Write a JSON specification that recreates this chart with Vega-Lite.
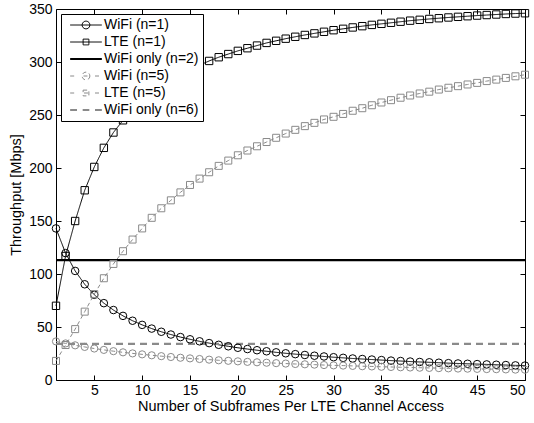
{
  "$schema": "https://vega.github.io/schema/vega-lite/v6.json",
  "width": 469,
  "height": 371,
  "autosize": "none",
  "padding": {"left": 56, "top": 9, "right": 9, "bottom": 43},
  "background": "white",
  "data": {"values": [
    {"x":1,"w1":143,"l1":70,"w5":36.4,"l5":18,"o2":113,"o6":34},
    {"x":2,"w1":119.7,"l1":117,"w5":34.5,"l5":33,"o2":113,"o6":34},
    {"x":3,"w1":102.9,"l1":150,"w5":32.7,"l5":48,"o2":113,"o6":34},
    {"x":4,"w1":90.3,"l1":179,"w5":31.2,"l5":64.5,"o2":113,"o6":34},
    {"x":5,"w1":80.4,"l1":201,"w5":29.7,"l5":81,"o2":113,"o6":34},
    {"x":6,"w1":72.5,"l1":219,"w5":28.4,"l5":96,"o2":113,"o6":34},
    {"x":7,"w1":66.0,"l1":233.5,"w5":27.2,"l5":109.5,"o2":113,"o6":34},
    {"x":8,"w1":60.5,"l1":245,"w5":26.1,"l5":121.5,"o2":113,"o6":34},
    {"x":9,"w1":55.9,"l1":255,"w5":25.1,"l5":132.5,"o2":113,"o6":34},
    {"x":10,"w1":52.0,"l1":264,"w5":24.2,"l5":143,"o2":113,"o6":34},
    {"x":11,"w1":48.5,"l1":271,"w5":23.3,"l5":153,"o2":113,"o6":34},
    {"x":12,"w1":45.5,"l1":277.5,"w5":22.5,"l5":162,"o2":113,"o6":34},
    {"x":13,"w1":42.9,"l1":283,"w5":21.7,"l5":169.5,"o2":113,"o6":34},
    {"x":14,"w1":40.5,"l1":288,"w5":21.0,"l5":177,"o2":113,"o6":34},
    {"x":15,"w1":38.4,"l1":293,"w5":20.4,"l5":184,"o2":113,"o6":34},
    {"x":16,"w1":36.5,"l1":297,"w5":19.8,"l5":190,"o2":113,"o6":34},
    {"x":17,"w1":34.8,"l1":301,"w5":19.2,"l5":196,"o2":113,"o6":34},
    {"x":18,"w1":33.2,"l1":304.5,"w5":18.6,"l5":202,"o2":113,"o6":34},
    {"x":19,"w1":31.8,"l1":307.5,"w5":18.1,"l5":207,"o2":113,"o6":34},
    {"x":20,"w1":30.4,"l1":310.5,"w5":17.6,"l5":212,"o2":113,"o6":34},
    {"x":21,"w1":29.2,"l1":313,"w5":17.1,"l5":216.5,"o2":113,"o6":34},
    {"x":22,"w1":28.1,"l1":315.5,"w5":16.7,"l5":220.5,"o2":113,"o6":34},
    {"x":23,"w1":27.1,"l1":318,"w5":16.3,"l5":224.5,"o2":113,"o6":34},
    {"x":24,"w1":26.1,"l1":320,"w5":15.9,"l5":228.5,"o2":113,"o6":34},
    {"x":25,"w1":25.2,"l1":322,"w5":15.5,"l5":232.5,"o2":113,"o6":34},
    {"x":26,"w1":24.4,"l1":323.8,"w5":15.1,"l5":236,"o2":113,"o6":34},
    {"x":27,"w1":23.6,"l1":325.5,"w5":14.8,"l5":239.5,"o2":113,"o6":34},
    {"x":28,"w1":22.9,"l1":327,"w5":14.5,"l5":242.6,"o2":113,"o6":34},
    {"x":29,"w1":22.2,"l1":328.5,"w5":14.1,"l5":245.8,"o2":113,"o6":34},
    {"x":30,"w1":21.5,"l1":330,"w5":13.8,"l5":248.3,"o2":113,"o6":34},
    {"x":31,"w1":20.9,"l1":331.3,"w5":13.6,"l5":251,"o2":113,"o6":34},
    {"x":32,"w1":20.3,"l1":332.6,"w5":13.3,"l5":254,"o2":113,"o6":34},
    {"x":33,"w1":19.8,"l1":333.8,"w5":13.0,"l5":256.4,"o2":113,"o6":34},
    {"x":34,"w1":19.3,"l1":335,"w5":12.8,"l5":259.2,"o2":113,"o6":34},
    {"x":35,"w1":18.8,"l1":336,"w5":12.5,"l5":261.8,"o2":113,"o6":34},
    {"x":36,"w1":18.3,"l1":337,"w5":12.3,"l5":264,"o2":113,"o6":34},
    {"x":37,"w1":17.9,"l1":338,"w5":12.0,"l5":266.3,"o2":113,"o6":34},
    {"x":38,"w1":17.4,"l1":339,"w5":11.8,"l5":268.4,"o2":113,"o6":34},
    {"x":39,"w1":17.0,"l1":339.8,"w5":11.6,"l5":270.3,"o2":113,"o6":34},
    {"x":40,"w1":16.7,"l1":340.6,"w5":11.4,"l5":272,"o2":113,"o6":34},
    {"x":41,"w1":16.3,"l1":341.3,"w5":11.2,"l5":274,"o2":113,"o6":34},
    {"x":42,"w1":15.9,"l1":342,"w5":11.0,"l5":275.7,"o2":113,"o6":34},
    {"x":43,"w1":15.6,"l1":342.6,"w5":10.8,"l5":277.2,"o2":113,"o6":34},
    {"x":44,"w1":15.3,"l1":343.2,"w5":10.7,"l5":278.8,"o2":113,"o6":34},
    {"x":45,"w1":15.0,"l1":343.8,"w5":10.5,"l5":280.3,"o2":113,"o6":34},
    {"x":46,"w1":14.7,"l1":344.3,"w5":10.3,"l5":282,"o2":113,"o6":34},
    {"x":47,"w1":14.4,"l1":344.8,"w5":10.2,"l5":283.4,"o2":113,"o6":34},
    {"x":48,"w1":14.1,"l1":345.3,"w5":10.0,"l5":285,"o2":113,"o6":34},
    {"x":49,"w1":13.8,"l1":345.7,"w5":9.8,"l5":286.5,"o2":113,"o6":34},
    {"x":50,"w1":13.6,"l1":346,"w5":9.7,"l5":288,"o2":113,"o6":34}
  ]},
  "transform": [{"fold": ["w1","l1","o2","w5","l5","o6"], "as": ["series","value"]}],
  "layer": [
    {
      "transform": [{"filter": "datum.series=='w1'||datum.series=='l1'||datum.series=='w5'||datum.series=='l5'"}],
      "mark": {"type": "line", "strokeWidth": 1},
      "encoding": {
        "x": {"field": "x", "type": "quantitative", "scale": {"domain": [1, 50], "nice": false, "zero": false},
              "axis": {"values": [5,10,15,20,25,30,35,40,45,50], "title": "Number of Subframes Per LTE Channel Access", "labelPadding": 3}},
        "y": {"field": "value", "type": "quantitative", "scale": {"domain": [0, 350], "nice": false},
              "axis": {"values": [0,50,100,150,200,250,300,350], "title": "Throughput [Mbps]", "labelPadding": 4}},
        "color": {"field": "series", "type": "nominal",
          "scale": {"domain": ["w1","l1","o2","w5","l5","o6"], "range": ["black","black","black","#8a8a8a","#8a8a8a","#8a8a8a"]},
          "legend": {
            "orient": "top-left", "offset": 5, "title": null,
            "labelExpr": "{'w1':'WiFi (n=1)','l1':'LTE (n=1)','o2':'WiFi only (n=2)','w5':'WiFi (n=5)','l5':'LTE (n=5)','o6':'WiFi only (n=6)'}[datum.value]",
            "symbolSize": 324, "symbolOffset": 14, "labelOffset": 11, "padding": 4, "rowPadding": 3,
            "fillColor": "white", "strokeColor": "black",
            "labelFont": "Liberation Sans", "labelFontSize": 14, "labelColor": "black",
            "encode": {"symbols": {"update": {
              "shape": {"signal": "datum.value=='w1' ? 'M-1.76,0H1.76M0.43,0A0.43,0.43,0,1,1,-0.43,0A0.43,0.43,0,1,1,0.43,0' : datum.value=='l1' ? 'M-1.76,0H1.76M-0.32,-0.32H0.32V0.32H-0.32Z' : datum.value=='o2' ? 'M-1.76,0H1.76' : datum.value=='w5' ? 'M-1.76,0H-1.0M-0.28,0H0.28M1.0,0H1.76M0.43,0A0.43,0.43,0,1,1,-0.43,0A0.43,0.43,0,1,1,0.43,0' : datum.value=='l5' ? 'M-1.76,0H-1.0M-0.22,0H0.22M1.0,0H1.76M-0.32,-0.32H0.32V0.32H-0.32Z' : 'M-1.76,0H-1.0M-0.37,0H0.37M1.0,0H1.76'"},
              "stroke": {"signal": "datum.value=='w5'||datum.value=='l5'||datum.value=='o6' ? '#8a8a8a' : 'black'"},
              "strokeWidth": {"signal": "datum.value=='o2'||datum.value=='o6' ? 2 : 1"},
              "strokeDash": {"value": [1, 0]},
              "fill": {"value": "transparent"},
              "opacity": {"value": 1},
              "size": {"value": 324}
            }}}
          }
        },
        "strokeDash": {"field": "series", "type": "nominal",
          "scale": {"domain": ["w1","l1","o2","w5","l5","o6"], "range": [[1,0],[1,0],[1,0],[4,3],[4,3],[7,5]]}, "legend": null}
      }
    },
    {
      "transform": [{"filter": "datum.series=='o2'||datum.series=='o6'"}],
      "mark": {"type": "line", "strokeWidth": 2.2},
      "encoding": {
        "x": {"field": "x", "type": "quantitative", "axis": null},
        "y": {"field": "value", "type": "quantitative", "axis": null},
        "color": {"field": "series", "type": "nominal"},
        "strokeDash": {"field": "series", "type": "nominal", "legend": null}
      }
    },
    {
      "transform": [{"filter": "datum.series=='w1'||datum.series=='l1'||datum.series=='w5'||datum.series=='l5'"}],
      "mark": {"type": "point", "filled": false, "strokeWidth": 1, "opacity": 1},
      "encoding": {
        "x": {"field": "x", "type": "quantitative",
              "axis": {"orient": "top", "values": [5,10,15,20,25,30,35,40,45,50], "labels": false, "title": null}},
        "y": {"field": "value", "type": "quantitative",
              "axis": {"orient": "right", "values": [0,50,100,150,200,250,300,350], "labels": false, "title": null}},
        "color": {"field": "series", "type": "nominal"},
        "shape": {"field": "series", "type": "nominal",
          "scale": {"domain": ["w1","l1","w5","l5"], "range": ["circle","square","circle","square"]}, "legend": null},
        "size": {"field": "series", "type": "nominal",
          "scale": {"domain": ["w1","l1","w5","l5"], "range": [57,49,57,49]}, "legend": null}
      }
    }
  ],
  "resolve": {"axis": {"x": "independent", "y": "independent"}},
  "config": {
    "view": {"stroke": "black", "strokeWidth": 1},
    "axis": {
      "grid": false, "domain": false, "offset": -5, "tickColor": "black", "tickWidth": 1, "tickSize": 5,
      "labelColor": "black", "labelFont": "Liberation Sans", "labelFontSize": 14,
      "titleColor": "black", "titleFont": "Liberation Sans", "titleFontSize": 14.5, "titleFontWeight": "normal"
    },
    "axisX": {"titlePadding": 2},
    "axisY": {"titlePadding": 5}
  }
}
